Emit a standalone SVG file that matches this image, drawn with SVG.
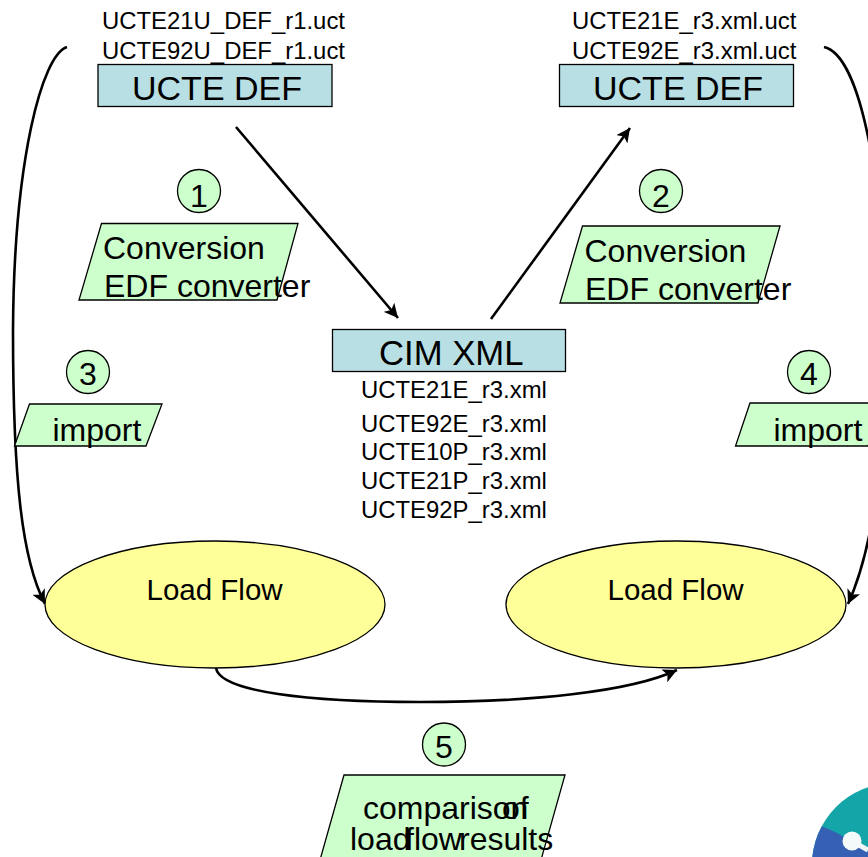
<svg xmlns="http://www.w3.org/2000/svg" width="868" height="857" viewBox="0 0 868 857">
<style>
text{font-family:"Liberation Sans",Arial,sans-serif;fill:#000}
.f{font-size:23.9px}
.b{font-size:34px}
.n{font-size:32px}
.l{font-size:29.500px}
.box{fill:#b8dfe3;stroke:#000;stroke-width:1.3}
.par{fill:#ccffcc;stroke:#000;stroke-width:1.3}
.ell{fill:#ffff99;stroke:#000;stroke-width:1.3}
.con{fill:none;stroke:#000;stroke-width:2.6}
</style>
<defs>
<marker id="arr" markerUnits="userSpaceOnUse" markerWidth="16" markerHeight="14" refX="14" refY="7" orient="auto">
<path d="M0 0L14 7L0 14L3.500 7Z" fill="#000"/>
</marker>
<clipPath id="logoClip"><circle cx="894" cy="865" r="82"/></clipPath>
</defs>
<g id="logo" clip-path="url(#logoClip)">
<rect x="800" y="780" width="68" height="77" fill="#14a5a8"/>
<path d="M800 819L818 825Q838 832 852 842L868 852V857H800Z" fill="#3560b4"/>
<path d="M852 841L868 850" stroke="#eef6f8" stroke-width="5"/>
<circle cx="852" cy="841" r="9.500" fill="#f4fafa"/>
</g>
<g id="connectors">
<path class="con" d="M236 127L398 318" marker-end="url(#arr)"/>
<path class="con" d="M491 319L630 128" marker-end="url(#arr)"/>
<path class="con" d="M67 47C42 55 14 160 13 330C13 480 22 560 45 604" marker-end="url(#arr)"/>
<path class="con" d="M824 47C860 55 885 180 885 340C885 480 868 560 848 604" marker-end="url(#arr)"/>
<path class="con" d="M216 668C220 692 310 702 420 702C530 702 630 692 677 670" marker-end="url(#arr)"/>
</g>
<g id="top-left-files">
<text class="f" x="102" y="29">UCTE21U_DEF_r1.uct</text>
<text class="f" x="102" y="59">UCTE92U_DEF_r1.uct</text>
</g>
<g id="top-right-files">
<text class="f" x="572" y="29">UCTE21E_r3.xml.uct</text>
<text class="f" x="572" y="59">UCTE92E_r3.xml.uct</text>
</g>
<g id="ucte-def-left">
<rect class="box" x="98" y="64.500" width="234" height="42"/>
<text class="b" x="132" y="100">UCTE DEF</text>
</g>
<g id="ucte-def-right">
<rect class="box" x="559.500" y="64.500" width="234" height="42"/>
<text class="b" x="593" y="100">UCTE DEF</text>
</g>
<g id="step-1">
<circle class="par" cx="199" cy="191" r="21.500"/>
<text class="n" x="199" y="207" text-anchor="middle">1</text>
</g>
<g id="conversion-1">
<path class="par" d="M101.500 223.500H298L277 300H79Z"/>
<text class="n" x="103" y="259">Conversion</text>
<text class="n" x="104" y="297">EDF converter</text>
</g>
<g id="step-2">
<circle class="par" cx="661" cy="191" r="21.500"/>
<text class="n" x="661" y="207" text-anchor="middle">2</text>
</g>
<g id="conversion-2">
<path class="par" d="M582.500 226H780L758 303H560Z"/>
<text class="n" x="584.500" y="262">Conversion</text>
<text class="n" x="585" y="300">EDF converter</text>
</g>
<g id="step-3">
<circle class="par" cx="88" cy="372" r="21.500"/>
<text class="n" x="88" y="384.500" text-anchor="middle">3</text>
</g>
<g id="import-3">
<path class="par" d="M29.500 404H162L146 446H14.500Z"/>
<text class="n" x="52.500" y="440.500">import</text>
</g>
<g id="step-4">
<circle class="par" cx="809" cy="372" r="21.500"/>
<text class="n" x="809" y="384.500" text-anchor="middle">4</text>
</g>
<g id="import-4">
<path class="par" d="M750 403H884L868 446H735.500Z"/>
<text class="n" x="773.500" y="440.500">import</text>
</g>
<g id="cim-xml">
<rect class="box" x="332.500" y="329.500" width="233" height="42"/>
<text class="b" x="379" y="365" style="font-size:34.700px">CIM XML</text>
<text class="f" x="361" y="398">UCTE21E_r3.xml</text>
<text class="f" x="361" y="432">UCTE92E_r3.xml</text>
<text class="f" x="361" y="460">UCTE10P_r3.xml</text>
<text class="f" x="361" y="489">UCTE21P_r3.xml</text>
<text class="f" x="361" y="518">UCTE92P_r3.xml</text>
</g>
<g id="load-flow-left">
<ellipse class="ell" cx="215" cy="604.500" rx="170" ry="63.500"/>
<text class="l" x="146.500" y="600">Load Flow</text>
</g>
<g id="load-flow-right">
<ellipse class="ell" cx="676" cy="604.500" rx="170" ry="63.500"/>
<text class="l" x="607.500" y="600">Load Flow</text>
</g>
<g id="step-5">
<circle class="par" cx="444" cy="744.500" r="21.500"/>
<text class="n" x="444" y="757.500" text-anchor="middle">5</text>
</g>
<g id="comparison">
<path class="par" d="M344 775H565L541 860H320Z"/>
<text class="n" x="363" y="819"><tspan>comparison</tspan> <tspan x="502">of</tspan></text>
<text class="n" x="350" y="849.500"><tspan>load</tspan> <tspan x="405">flow</tspan> <tspan x="459">results</tspan></text>
</g>
</svg>
